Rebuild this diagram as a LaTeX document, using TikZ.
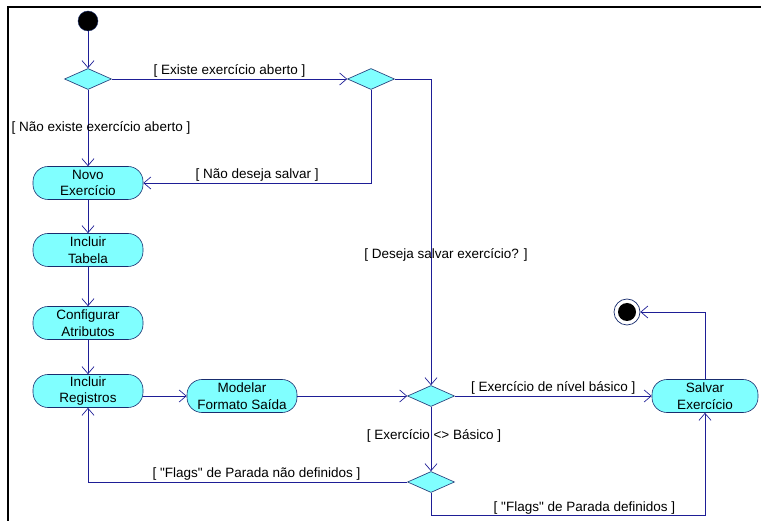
\documentclass[tikz,border=0pt]{standalone}
\usepackage{fontspec}
\newfontfamily\diagfont{Liberation Sans}
\usepackage{tikz}
\usetikzlibrary{positioning,shapes.geometric,arrows.meta}
\definecolor{actfill}{RGB}{128,255,255}
\definecolor{actline}{RGB}{30,30,150}
\definecolor{actedge}{RGB}{25,45,110}

\begin{document}
\begin{tikzpicture}[x=1pt, y=-1pt, font=\diagfont\fontsize{13.5}{16.5}\selectfont,
        >={Straight Barb[length=7pt,width=12pt]},
        actnode/.style={rectangle, rounded corners=15pt, draw=actedge, fill=actfill, line width=0.6pt, minimum width=110pt, minimum height=33pt, inner sep=1pt, align=center},
        decnode/.style={diamond, draw=actedge, fill=actfill, line width=0.6pt, minimum width=47pt, minimum height=21pt, inner sep=0pt},
        flow/.style={->, draw=actline, line width=0.7pt},
        guard/.style={inner sep=1pt}]

        \useasboundingbox (0,0) rectangle (761,521);
        \draw[line width=2.5pt] (8,521) -- (8,7) -- (761,7);

        \node[circle, draw=actedge, fill=black, minimum size=20pt, inner sep=0pt] (start) at (88,21) {};
        \node[decnode] (d1) at (88,79) {};
        \node[decnode] (d2) at (371,79) {};
        \node[actnode] (novo) at (88,183) {Novo\\Exercício};
        \node[actnode] (tabela) at (88,250) {Incluir\\Tabela};
        \node[actnode] (config) at (88,323) {Configurar\\Atributos};
        \node[actnode] (registros) at (88,391) {Incluir\\Registros};
        \node[actnode] (modelar) at (242,396) {Modelar\\Formato Saída};
        \node[decnode] (d3) at (431,396) {};
        \node[decnode] (d4) at (431,482) {};
        \node[actnode, minimum width=106pt] (salvar) at (705,396) {Salvar\\Exercício};
        \node[circle, draw=actedge, line width=0.7pt, fill=white, minimum size=26pt, inner sep=0pt] (fim) at (627,312) {};
        \node[circle, fill=black, minimum size=18pt, inner sep=0pt] at (fim) {};

        \draw[flow] (start) -- (d1);
        \draw[flow] (d1) -- node[guard, above=0pt] {[ Existe exercício aberto ]} (d2);
        \draw[flow] (d1) -- (novo);
        \node[guard] (g1) at (101,128) {[ Não existe exercício aberto ]};
        \draw[flow] (d2.south) |- node[guard, above=0pt, pos=0.75] {[ Não deseja salvar ]} (novo.east);
        \draw[flow] (novo) -- (tabela);
        \draw[flow] (tabela) -- (config);
        \draw[flow] (config) -- (registros);
        \draw[flow] (registros.east |- modelar) -- (modelar.west);
        \draw[flow] (modelar) -- (d3);
        \draw[flow] (d2.east) -| (d3.north);
        \node[guard] (g2) at (446,255) {[ Deseja salvar exercício? ]};
        \draw[flow] (d3) -- node[guard, above=0pt] {[ Exercício de nível básico ]} (salvar);
        \draw[flow] (d3) -- (d4);
        \node[guard] (g3) at (434,436) {[ Exercício <> Básico ]};
        \draw[flow] (d4.west) -| node[guard, above=0pt, pos=0.236] {[ "Flags" de Parada não definidos ]} (registros.south);
        \draw[flow] (d4.south) -- ++(0,23) -| node[guard, above=0pt, pos=0.28] {[ "Flags" de Parada definidos ]} (salvar.south);
        \draw[flow] (salvar.north) |- (fim.east);

        \end{tikzpicture}
\end{document}
